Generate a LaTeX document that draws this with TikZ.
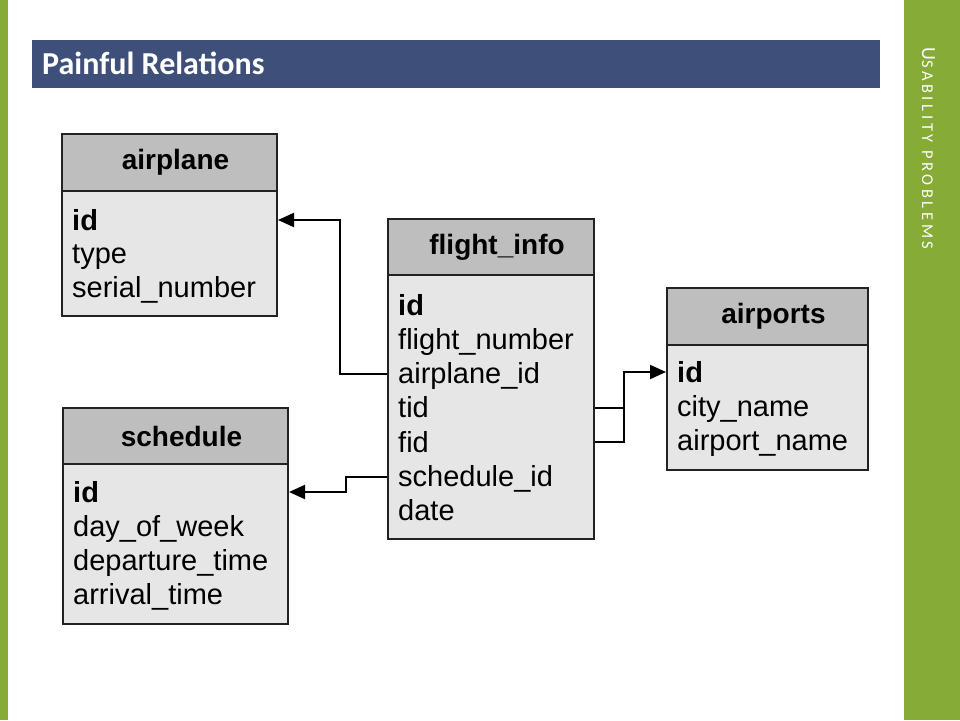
\documentclass[tikz,border=0pt]{standalone}
\usepackage{fontspec}
\setmainfont{Liberation Sans}
\newfontfamily\slidefont{Carlito}
\newfontfamily\sectionfont[LetterSpace=22]{Carlito}
\usetikzlibrary{positioning, arrows.meta}
\definecolor{slidegreen}{HTML}{86AB37}
\definecolor{titleblue}{HTML}{3E4F7A}
\definecolor{headgray}{HTML}{BEBEBE}
\definecolor{bodygray}{HTML}{E6E6E6}
\definecolor{edgegray}{HTML}{222222}

\tikzset{
  tablehead/.style={draw=edgegray, fill=headgray, line width=2pt, anchor=north west, inner sep=0pt, font=\fontsize{28}{30}\selectfont\bfseries},
  tablebody/.style={draw=edgegray, fill=bodygray, line width=2pt, anchor=north west, inner sep=0pt},
  field/.style={anchor=west, inner sep=0pt, text height=21pt, text depth=1pt, font=\fontsize{29}{30}\selectfont},
  keyfield/.style={field, font=\fontsize{29}{30}\selectfont\bfseries},
  link/.style={draw=black, line width=2pt, -{Triangle[length=16pt,width=14pt]}}
}

\begin{document}
\begin{tikzpicture}[x=1pt, y=-1pt]
  \useasboundingbox (0,0) rectangle (960,720);
  \fill[white] (0,0) rectangle (960,720);
  % slide frame
  \fill[slidegreen] (0,0) rectangle (8,720);
  \fill[slidegreen] (904,0) rectangle (960,720);
  \fill[titleblue] (32,40) rectangle (880,88);
  \node[anchor=base west, inner sep=0pt, text=white, font=\slidefont\fontsize{32}{34}\selectfont\bfseries] (title) at (42,74) {Painful Relations};
  \node[anchor=base west, inner sep=0pt, text=white, rotate=-90, font=\sectionfont] (section) at (922,47)
    {\fontsize{20}{20}\selectfont U\fontsize{16.5}{20}\selectfont SABILITY PROBLEMS};

  % airplane
  \node[tablehead, minimum width=215pt, minimum height=57pt] (ap-h) at (61,133) {\hspace{12pt}airplane};
  \node[tablebody, minimum width=215pt, minimum height=125pt] (ap-b) at (61,190) {};
  \node[keyfield] (ap-1) at (72,220) {id};
  \foreach \f [count=\i from 2] in {type, serial\_number}
    \node[field] (ap-\i) at (72,220+33.7*\i-33.7) {\f};

  % flight_info
  \node[tablehead, minimum width=206pt, minimum height=56pt] (fi-h) at (387,218) {\hspace{12pt}flight\_info};
  \node[tablebody, minimum width=206pt, minimum height=264pt] (fi-b) at (387,274) {};
  \node[keyfield] (fi-1) at (398,305) {id};
  \foreach \f [count=\i from 2] in {flight\_number, airplane\_id, tid, fid, schedule\_id, date}
    \node[field] (fi-\i) at (398,305+34.3*\i-34.3) {\f};

  % airports
  \node[tablehead, minimum width=201pt, minimum height=57pt] (apt-h) at (666,287) {\hspace{12pt}airports};
  \node[tablebody, minimum width=201pt, minimum height=125pt] (apt-b) at (666,344) {};
  \node[keyfield] (apt-1) at (677,372) {id};
  \foreach \f [count=\i from 2] in {city\_name, airport\_name}
    \node[field] (apt-\i) at (677,372+34*\i-34) {\f};

  % schedule
  \node[tablehead, minimum width=225pt, minimum height=56pt] (sc-h) at (62,407) {\hspace{12pt}schedule};
  \node[tablebody, minimum width=225pt, minimum height=160pt] (sc-b) at (62,463) {};
  \node[keyfield] (sc-1) at (73,492) {id};
  \foreach \f [count=\i from 2] in {day\_of\_week, departure\_time, arrival\_time}
    \node[field] (sc-\i) at (73,492+34*\i-34) {\f};

  % foreign keys
  \draw[link] (fi-3 -| fi-b.west) -- ++(-47,0) |- (ap-1 -| ap-b.east);
  \draw[link] (fi-6 -| fi-b.west) -- ++(-41,0) |- (sc-1 -| sc-b.east);
  \draw[line width=2pt] (fi-4 -| fi-b.east) -- ++(29,0);
  \draw[link] (fi-5 -| fi-b.east) -- ++(29,0) |- (apt-1 -| apt-b.west);
\end{tikzpicture}
\end{document}
